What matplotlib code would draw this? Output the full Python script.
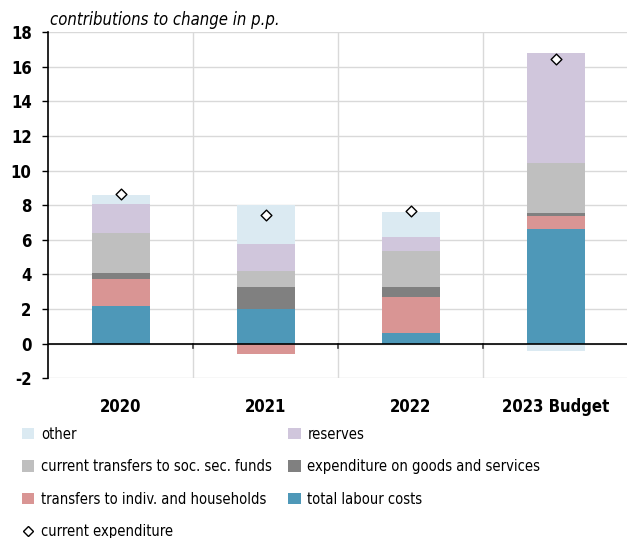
import matplotlib.pyplot as plt
import numpy as np
from matplotlib.lines import Line2D
from matplotlib.patches import Patch

plt.rcParams["font.family"] = ["Liberation Sans Narrow", "DejaVu Sans"]
plt.rcParams["font.stretch"] = "condensed"
plt.rcParams["axes.unicode_minus"] = False

years = ["2020", "2021", "2022", "2023 Budget"]
labour = [2.2, 2.0, 0.6, 6.6]
transfers_hh = [1.56, -0.6, 2.08, 0.79]
goods = [0.3, 1.27, 0.62, 0.17]
soc_sec = [2.31, 0.93, 2.04, 2.89]
reserves = [1.68, 1.58, 0.81, 6.36]
other = [0.56, 2.23, 1.45, -0.43]
current_exp = [8.65, 7.41, 7.65, 16.45]

series = [
    ("total labour costs", labour, "#4e98b8"),
    ("transfers to indiv. and households", transfers_hh, "#d99594"),
    ("expenditure on goods and services", goods, "#808080"),
    ("current transfers to soc. sec. funds", soc_sec, "#bfbfbf"),
    ("reserves", reserves, "#d0c6dc"),
    ("other", other, "#dbeaf2"),
]

fig = plt.figure(figsize=(6.27, 5.38), dpi=100)
ax = fig.add_axes([0.077, 0.297, 0.925, 0.643])

x = np.arange(len(years))
pos = np.zeros(len(years))
neg = np.zeros(len(years))
for name, vals, color in series:
    vals = np.array(vals)
    bottom = np.where(vals >= 0, pos, neg)
    ax.bar(x, vals, 0.4, bottom=bottom, color=color, label=name, zorder=2)
    pos = np.where(vals >= 0, pos + vals, pos)
    neg = np.where(vals < 0, neg + vals, neg)

ax.scatter(x, current_exp, marker="D", s=30, facecolor="white",
           edgecolor="black", linewidth=1.0, zorder=3)

ax.set_xlim(-0.5, 3.5)
ax.set_ylim(-2, 18)
ax.set_yticks(np.arange(-2, 19, 2))
ax.yaxis.grid(True, color="#d9d9d9", linewidth=1.0, zorder=0)
for b in [0.5, 1.5, 2.5]:
    ax.axvline(b, color="#d9d9d9", linewidth=1.0, zorder=0)
    ax.plot([b, b], [0, -0.25], color="#404040", linewidth=1.2, zorder=3)
ax.axhline(0, color="black", linewidth=1.2, zorder=3)

ax.set_xticks(x)
ax.set_xticklabels(years, fontsize=12, fontweight="bold")
ax.tick_params(axis="x", length=0, pad=14)
ax.tick_params(axis="y", labelsize=12, length=4, width=1.0, pad=8)
for lab in ax.get_yticklabels():
    lab.set_fontweight("bold")
for side in ["top", "right", "bottom"]:
    ax.spines[side].set_visible(False)
ax.spines["left"].set_linewidth(1.2)

fig.text(0.08, 0.963, "contributions to change in p.p.", fontsize=12,
         style="italic", va="center")

colors = {name: c for name, _, c in series}
col_left = ["other", "current transfers to soc. sec. funds",
            "transfers to indiv. and households"]
col_right = ["reserves", "expenditure on goods and services",
             "total labour costs"]

left_handles = [Patch(facecolor=colors[n], label=n) for n in col_left]
left_handles.append(Line2D([], [], marker="D", linestyle="none", markersize=5,
                           markerfacecolor="white", markeredgecolor="black",
                           label="current expenditure"))
right_handles = [Patch(facecolor=colors[n], label=n) for n in col_right]

legend_kw = dict(loc="upper left", frameon=False, fontsize=10.5,
                 handlelength=0.85, handleheight=0.85, handletextpad=0.45,
                 labelspacing=1.2, borderaxespad=0, borderpad=0)
fig.legend(handles=left_handles, bbox_to_anchor=(0.035, 0.207), **legend_kw)
fig.legend(handles=right_handles, bbox_to_anchor=(0.46, 0.207), **legend_kw)

fig.savefig("out.png", dpi=100)
